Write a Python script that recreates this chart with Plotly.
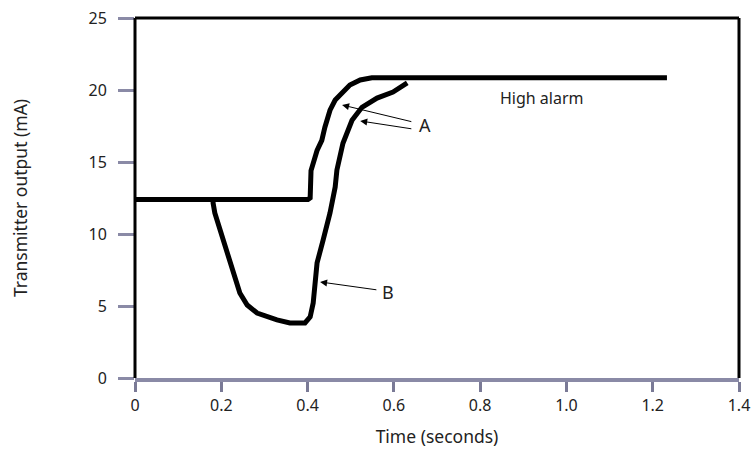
import plotly.graph_objects as go

# curve A: fast transmitter response (seconds, mA)
t_a = [0.0, 0.401, 0.406, 0.408, 0.422, 0.433, 0.44, 0.452, 0.464, 0.48, 0.498, 0.522, 0.549, 1.233]
ma_a = [12.4, 12.4, 12.5, 14.4, 15.8, 16.5, 17.4, 18.6, 19.3, 19.85, 20.35, 20.7, 20.85, 20.85]

# curve B: slow response with dip
t_b = [0.181, 0.181, 0.185, 0.204, 0.225, 0.243, 0.26, 0.283, 0.329, 0.359, 0.394, 0.406,
       0.413, 0.417, 0.422, 0.436, 0.452, 0.464, 0.468, 0.482, 0.503, 0.526, 0.561, 0.598, 0.631]
ma_b = [12.4, 12.15, 11.46, 9.58, 7.5, 5.9, 5.07, 4.51, 4.03, 3.82, 3.82, 4.24,
        5.2, 6.8, 7.99, 9.58, 11.46, 13.26, 14.44, 16.3, 17.9, 18.8, 19.44, 19.86, 20.49]

x_ticks = [0, 0.2, 0.4, 0.6, 0.8, 1.0, 1.2, 1.4]
x_labels = ["0", "0.2", "0.4", "0.6", "0.8", "1.0", "1.2", "1.4"]
y_ticks = [0, 5, 10, 15, 20, 25]

FONT = "Noto Sans"
TXT = "#222222"

fig = go.Figure()
fig.add_trace(go.Scatter(x=t_a, y=ma_a, mode="lines", line=dict(color="black", width=5),
                         showlegend=False, hoverinfo="skip"))
fig.add_trace(go.Scatter(x=t_b, y=ma_b, mode="lines", line=dict(color="black", width=5),
                         showlegend=False, hoverinfo="skip"))

# frame: black left/top/right, grey bottom axis
for x0, x1, y0, y1 in [(0, 1, 1, 1), (0, 0, 0, 1), (1, 1, 0, 1)]:
    fig.add_shape(type="line", xref="x domain", yref="y domain", x0=x0, x1=x1, y0=y0, y1=y1,
                  line=dict(color="black", width=3))

arrows = [
    (0.480, 18.96, 0.644, 17.78),
    (0.522, 17.85, 0.644, 17.29),
    (0.429, 6.67, 0.563, 6.11),
]
for hx, hy, tx, ty in arrows:
    fig.add_annotation(x=hx, y=hy, ax=tx, ay=ty, axref="x", ayref="y", text="",
                       showarrow=True, arrowhead=2, arrowsize=1.4, arrowwidth=1,
                       arrowcolor="black")

fig.add_annotation(x=0.672, y=17.57, text="A", showarrow=False,
                   font=dict(family=FONT, size=18, color=TXT))
fig.add_annotation(x=0.586, y=5.97, text="B", showarrow=False,
                   font=dict(family=FONT, size=18, color=TXT))
fig.add_annotation(x=0.943, y=19.44, text="High alarm", showarrow=False,
                   font=dict(family=FONT, size=16, color=TXT))

fig.update_xaxes(range=[0, 1.4], tickvals=x_ticks, ticktext=x_labels,
                 showgrid=False, zeroline=False, automargin=False,
                 showline=True, linecolor="#8a8aa6", linewidth=4,
                 ticks="outside", ticklen=10, tickwidth=3, tickcolor="#7a7a96",
                 ticklabelstandoff=0, ticklabeloverflow="allow",
                 tickfont=dict(family=FONT, size=16, color=TXT),
                 title=dict(text="Time (seconds)", standoff=17,
                            font=dict(family=FONT, size=17.5, color=TXT)))
fig.update_yaxes(range=[0, 25], tickvals=y_ticks,
                 showgrid=False, zeroline=False, showline=False, automargin=False,
                 ticks="outside", ticklen=16, tickwidth=3, tickcolor="#8a8aa6",
                 ticklabelstandoff=8, ticklabeloverflow="allow",
                 tickfont=dict(family=FONT, size=16, color=TXT),
                 title=dict(text="Transmitter output (mA)", standoff=56,
                            font=dict(family=FONT, size=17.5, color=TXT)))

fig.update_layout(width=752, height=449, plot_bgcolor="white", paper_bgcolor="white",
                  margin=dict(l=135, r=13, t=18, b=71))

# drop the default page margin so the figure sits at the window origin
fig.write_html("out.html", config={"displayModeBar": False},
               post_script="document.body.style.margin='0';document.body.style.overflow='hidden';")
